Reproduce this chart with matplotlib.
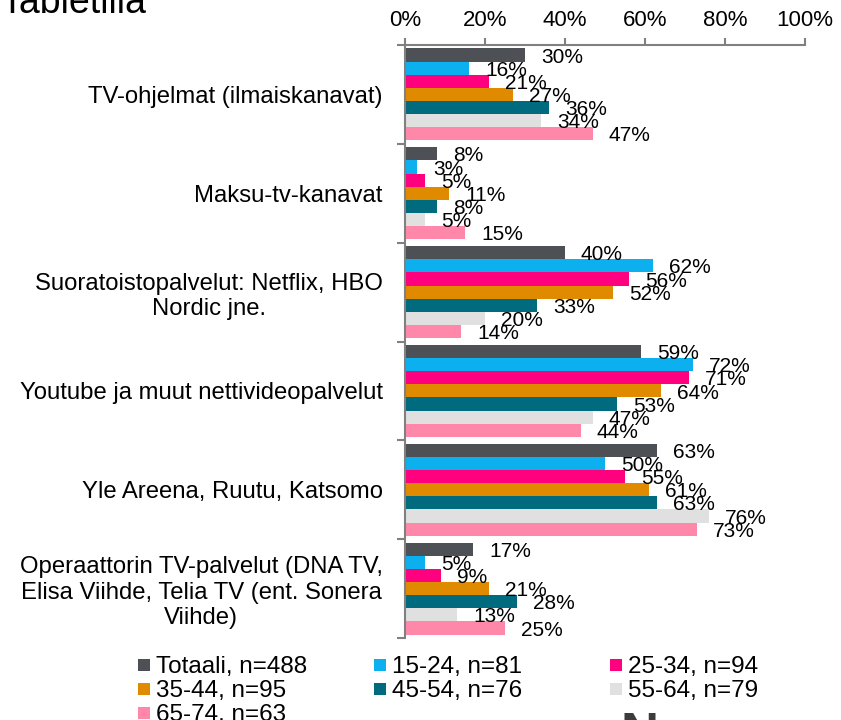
import matplotlib
matplotlib.use("Agg")
import matplotlib.pyplot as plt
from matplotlib.patches import Rectangle
import numpy as np

plt.rcParams['font.family'] = ['Liberation Sans', 'DejaVu Sans']

# categories, top to bottom
categories = [
    "TV-ohjelmat (ilmaiskanavat)",
    "Maksu-tv-kanavat",
    "Suoratoistopalvelut: Netflix, HBO\nNordic jne.",
    "Youtube ja muut nettivideopalvelut",
    "Yle Areena, Ruutu, Katsomo",
    "Operaattorin TV-palvelut (DNA TV,\nElisa Viihde, Telia TV (ent. Sonera\nViihde)",
]
series_names = ["Totaali, n=488", "15-24, n=81", "25-34, n=94", "35-44, n=95",
                "45-54, n=76", "55-64, n=79", "65-74, n=63"]
series_colors = ["#4d5054", "#0db0ee", "#ff007f", "#e08a00",
                 "#006b7f", "#e0e0e0", "#ff88aa"]

totaali = [30, 8, 40, 59, 63, 17]
age_15_24 = [16, 3, 62, 72, 50, 5]
age_25_34 = [21, 5, 56, 71, 55, 9]
age_35_44 = [27, 11, 52, 64, 61, 21]
age_45_54 = [36, 8, 33, 53, 63, 28]
age_55_64 = [34, 5, 20, 47, 76, 13]
age_65_74 = [47, 15, 14, 44, 73, 25]
values = [totaali, age_15_24, age_25_34, age_35_44, age_45_54, age_55_64, age_65_74]

W, H = 841, 720
fig = plt.figure(figsize=(W / 100, H / 100), dpi=100)
ax = fig.add_axes([405 / W, 1 - 638 / H, 400 / W, 593 / H])

ypos = np.arange(len(categories))
h = 0.133
for i, (vals, col) in enumerate(zip(values, series_colors)):
    y = ypos + (i - 3) * h
    ax.barh(y, vals, height=h, color=col, edgecolor='none')
    for yy, v in zip(y, vals):
        ax.annotate(f"{v}%", (v, yy), xytext=(11.5, -1.5), textcoords='offset points',
                    ha='left', va='center', fontsize=15, color='black')

ax.set_xlim(0, 100)
ax.set_ylim(5.5, -0.5)
ax.xaxis.tick_top()
ax.set_xticks(range(0, 101, 20))
ax.set_xticklabels([f"{t}%" for t in range(0, 101, 20)])
ax.tick_params(axis='x', direction='out', length=5, width=1.5, color='#808080',
               labelsize=16, pad=5)

ax.set_yticks(ypos, labels=categories, multialignment='center')
ax.tick_params(axis='y', which='major', length=0, labelsize=17.2, pad=16)
ax.set_yticks(np.arange(-0.5, 6, 1), minor=True)
ax.tick_params(axis='y', which='minor', direction='out', length=6, width=1.5,
               color='#808080')

for s in ['bottom', 'right']:
    ax.spines[s].set_visible(False)
for s in ['top', 'left']:
    ax.spines[s].set_color('#808080')
    ax.spines[s].set_linewidth(1.5)

# legend, filled row by row in 3 even columns
for k, (name, col) in enumerate(zip(series_names, series_colors)):
    r, c = divmod(k, 3)
    x0 = 138 + c * 236
    yc = 665 + r * 24
    fig.add_artist(Rectangle((x0 / W, 1 - (yc + 6) / H), 12 / W, 12 / H,
                             transform=fig.transFigure, color=col, lw=0))
    fig.text((x0 + 18) / W, 1 - yc / H, name, fontsize=17.5,
             ha='left', va='center_baseline')

fig.text(0.0, 0.982, "Tabletilla", fontsize=27, va='baseline', ha='left')
fig.text(620 / W, 1 - 750 / H, "N", fontsize=38, fontweight='bold', color='#3c3c3c',
         va='baseline', ha='left')

fig.savefig("out.png", dpi=100)
